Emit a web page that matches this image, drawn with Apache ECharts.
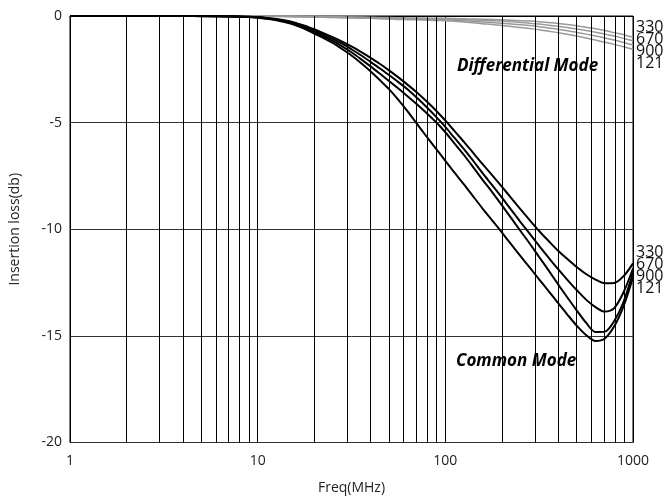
<!DOCTYPE html>
<html><head><meta charset="utf-8">
<script src="https://cdn.jsdelivr.net/npm/echarts@6/dist/echarts.min.js"></script>
<style>html,body{margin:0;padding:0;background:#fff}#c{width:667px;height:498px}</style>
</head><body><div id="c"></div>
<script>
// frequencies (MHz): a few points below 10, then 1/20-decade steps from 10 to 1000
const freq = [1,3.16,6.31,7.94,8.91,
  10,11.2,12.6,14.1,15.8,17.8,20,22.4,25.1,28.2,31.6,35.5,39.8,44.7,50.1,56.2,63.1,70.8,79.4,89.1,
  100,112,126,141,158,178,200,224,251,282,316,355,398,447,501,562,631,708,794,891,1000];
// Common mode insertion loss (dB)
const cm330 = [0,0,-0.01,-0.02,-0.03,
  -0.05,-0.09,-0.14,-0.21,-0.31,-0.45,-0.62,-0.8,-0.99,-1.2,-1.43,-1.68,-1.95,-2.24,-2.55,-2.88,-3.23,-3.6,-4.0,-4.43,
  -4.9,-5.4,-5.91,-6.43,-6.95,-7.47,-8.0,-8.53,-9.06,-9.58,-10.08,-10.55,-11.0,-11.4,-11.77,-12.1,-12.36,-12.53,-12.52,-12.2,-11.6];
const cm670 = [0,0,-0.01,-0.02,-0.04,
  -0.06,-0.1,-0.16,-0.24,-0.35,-0.5,-0.68,-0.87,-1.07,-1.3,-1.56,-1.84,-2.14,-2.45,-2.77,-3.1,-3.45,-3.85,-4.27,-4.72,
  -5.2,-5.72,-6.25,-6.8,-7.37,-7.94,-8.51,-9.08,-9.65,-10.22,-10.78,-11.33,-11.86,-12.37,-12.85,-13.3,-13.65,-13.86,-13.7,-12.95,-11.84];
const cm900 = [0,0,-0.01,-0.03,-0.045,
  -0.07,-0.12,-0.18,-0.27,-0.39,-0.55,-0.75,-0.95,-1.17,-1.42,-1.7,-2.02,-2.35,-2.7,-3.05,-3.4,-3.77,-4.15,-4.55,-4.97,
  -5.45,-5.98,-6.53,-7.1,-7.68,-8.27,-8.87,-9.47,-10.07,-10.68,-11.3,-11.93,-12.57,-13.2,-13.8,-14.38,-14.82,-14.8,-14.3,-13.4,-12.03];
const cm121 = [0,0,-0.01,-0.03,-0.05,
  -0.08,-0.13,-0.2,-0.3,-0.43,-0.6,-0.82,-1.03,-1.26,-1.55,-1.85,-2.2,-2.58,-3.0,-3.43,-3.93,-4.48,-5.07,-5.65,-6.22,
  -6.79,-7.35,-7.91,-8.47,-9.03,-9.59,-10.15,-10.7,-11.25,-11.8,-12.35,-12.9,-13.45,-14.0,-14.52,-14.96,-15.24,-15.12,-14.55,-13.6,-12.26];
// Differential mode insertion loss (dB)
const dm330 = [0,0,0,0,0,
  0,0,-0.01,-0.01,-0.01,-0.02,-0.02,-0.03,-0.03,-0.04,-0.05,-0.05,-0.06,-0.07,-0.07,-0.08,-0.09,-0.09,-0.1,-0.11,
  -0.11,-0.12,-0.13,-0.14,-0.15,-0.16,-0.18,-0.2,-0.22,-0.24,-0.27,-0.31,-0.35,-0.4,-0.46,-0.53,-0.6,-0.68,-0.78,-0.88,-1.0];
const dm670 = [0,0,0,0,0,
  0,-0.01,-0.01,-0.02,-0.02,-0.03,-0.03,-0.04,-0.05,-0.05,-0.06,-0.07,-0.08,-0.09,-0.1,-0.11,-0.12,-0.13,-0.13,-0.14,
  -0.15,-0.16,-0.17,-0.19,-0.2,-0.22,-0.24,-0.27,-0.3,-0.34,-0.38,-0.43,-0.48,-0.54,-0.61,-0.68,-0.76,-0.85,-0.94,-1.05,-1.16];
const dm900 = [0,0,0,0,0,
  0,-0.01,-0.01,-0.02,-0.03,-0.03,-0.04,-0.05,-0.06,-0.07,-0.08,-0.09,-0.1,-0.11,-0.12,-0.13,-0.14,-0.15,-0.16,-0.17,
  -0.18,-0.2,-0.22,-0.25,-0.28,-0.31,-0.34,-0.37,-0.41,-0.45,-0.5,-0.56,-0.62,-0.69,-0.77,-0.85,-0.94,-1.03,-1.13,-1.24,-1.36];
const dm121 = [0,0,0,0,0,
  0,-0.01,-0.02,-0.02,-0.03,-0.04,-0.05,-0.06,-0.07,-0.08,-0.09,-0.1,-0.11,-0.13,-0.14,-0.16,-0.17,-0.18,-0.19,-0.21,
  -0.22,-0.25,-0.28,-0.32,-0.36,-0.4,-0.45,-0.49,-0.54,-0.59,-0.64,-0.71,-0.78,-0.86,-0.94,-1.03,-1.13,-1.23,-1.33,-1.44,-1.56];
const seriesNames = ['330','670','900','121'];
const gridFreqs = [2,3,4,5,6,7,8,9,20,30,40,50,60,70,80,90,200,300,400,500,600,700,800,900];
const yTicks = [0,-5,-10,-15,-20];
const xTicks = [1,10,100,1000];

const FONT = 'Open Sans';
const chart = echarts.init(document.getElementById('c'), null, {renderer:'canvas'});
const pair = arr => freq.map((f,i)=>[f, arr[i]]);
const mk = (name, arr, color, width) => ({
  name, type:'line', data: pair(arr), showSymbol:false, smooth:0.3,
  lineStyle:{color, width}, silent:true, z:3
});
const series = [
  mk('DM 330', dm330, '#999', 1.5), mk('DM 670', dm670, '#999', 1.5),
  mk('DM 900', dm900, '#999', 1.5), mk('DM 121', dm121, '#999', 1.5),
  mk('CM 330', cm330, '#000', 2), mk('CM 670', cm670, '#000', 2),
  mk('CM 900', cm900, '#000', 2), mk('CM 121', cm121, '#000', 2)
];
series[0].markLine = {
  silent:true, symbol:'none', label:{show:false}, animation:false,
  lineStyle:{color:'#000', width:1, type:'solid'},
  data: gridFreqs.map(f=>({xAxis:f}))
};
chart.setOption({
  animation:false,
  backgroundColor:'#fff',
  grid:{left:70, right:34, top:16, bottom:55.5, show:true, borderColor:'#000', borderWidth:1,
    containLabel:false, outerBoundsMode:'none'},
  xAxis:{type:'log', logBase:10, min:1, max:1000,
    name:'Freq(MHz)', nameLocation:'middle', nameGap:39,
    nameTextStyle:{fontFamily:FONT, fontSize:14, color:'#222'},
    axisLine:{lineStyle:{color:'#000'}}, axisTick:{show:false},
    axisLabel:{fontFamily:FONT, fontSize:14, color:'#222', margin:12,
      formatter: v => xTicks.includes(Math.round(v)) ? String(Math.round(v)) : ''},
    splitLine:{show:true, lineStyle:{color:'#000', width:1}}, minorSplitLine:{show:false}},
  yAxis:{type:'value', min:-20, max:0, interval:5,
    name:'Insertion loss(db)', nameLocation:'middle', nameGap:48,
    nameTextStyle:{fontFamily:FONT, fontSize:14, color:'#222'},
    axisLine:{lineStyle:{color:'#000'}}, axisTick:{show:false},
    axisLabel:{fontFamily:FONT, fontSize:14, color:'#222', margin:8,
      formatter: v => yTicks.includes(v) ? String(v) : ''},
    splitLine:{show:true, lineStyle:{color:'#333', width:1}}},
  series,
  graphic:[
    {type:'text', left:636, top:19, style:{text:seriesNames.join('\n'), fontFamily:FONT, fontSize:16, lineHeight:12, fill:'#111'}},
    {type:'text', left:636, top:244, style:{text:seriesNames.join('\n'), fontFamily:FONT, fontSize:16, lineHeight:12, fill:'#111'}},
    {type:'text', left:457, top:58, style:{text:'Differential Mode', fontFamily:FONT, fontSize:17, fontWeight:'bold', fontStyle:'italic', fill:'#000'}},
    {type:'text', left:456, top:353, style:{text:'Common Mode', fontFamily:FONT, fontSize:17, fontWeight:'bold', fontStyle:'italic', fill:'#000'}}
  ]
});
</script></body></html>
